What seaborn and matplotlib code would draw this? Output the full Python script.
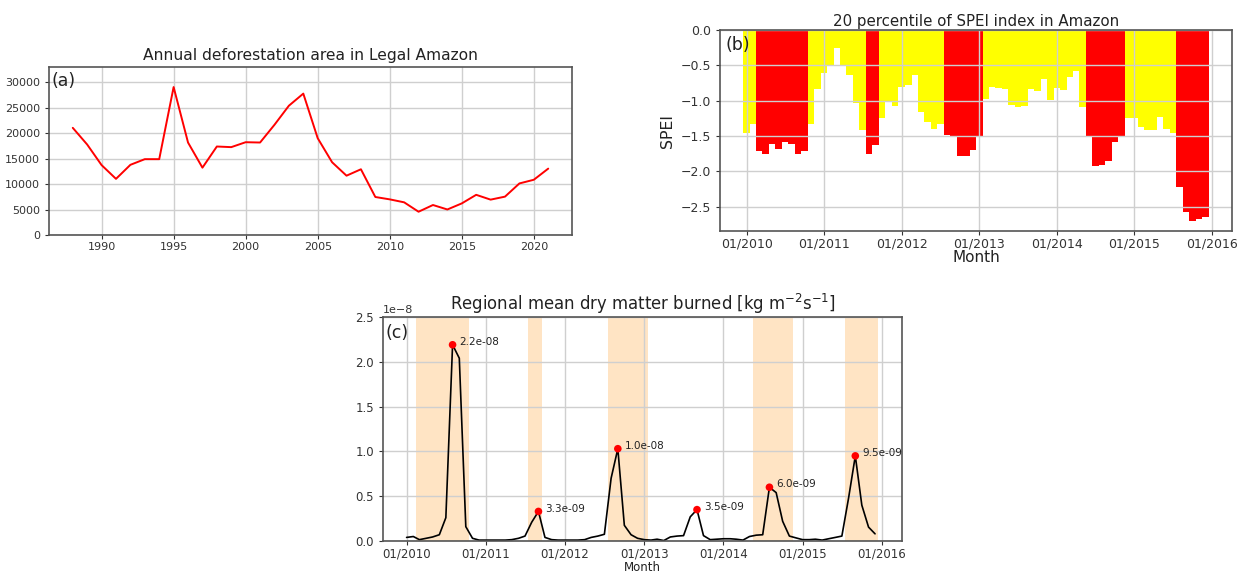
import numpy as np
import pandas as pd
import matplotlib
matplotlib.use("Agg")
import matplotlib.pyplot as plt
import matplotlib.dates as mdates
import seaborn as sns

# ---------------- data ----------------
years = list(range(1988, 2022))
deforestation = [21050, 17770, 13730, 11030, 13786, 14896, 14896, 29059, 18161, 13227,
                 17383, 17259, 18226, 18165, 21651, 25396, 27772, 19014, 14286, 11651,
                 12911, 7464, 7000, 6418, 4571, 5891, 5012, 6207, 7893, 6947,
                 7536, 10129, 10851, 13038]

spei = [-1.46, -1.33, -1.71, -1.75, -1.61, -1.68, -1.58, -1.61, -1.75, -1.71, -1.33, -0.84,
        -0.61, -0.50, -0.25, -0.51, -0.63, -1.04, -1.41, -1.75, -1.63, -1.24, -1.01, -1.07,
        -0.81, -0.78, -0.64, -1.16, -1.30, -1.40, -1.33, -1.49, -1.51, -1.79, -1.79, -1.70,
        -1.52, -0.97, -0.81, -0.82, -0.84, -1.06, -1.09, -1.07, -0.83, -0.86, -0.70, -0.99,
        -0.82, -0.85, -0.66, -0.58, -1.09, -1.52, -1.92, -1.91, -1.85, -1.58, -1.50, -1.25,
        -1.25, -1.37, -1.41, -1.42, -1.23, -1.40, -1.46, -2.22, -2.57, -2.71, -2.67, -2.65]

# 1 = month flagged as drought (red), 0 = other (yellow)
drought = [0, 0, 1, 1, 1, 1, 1, 1, 1, 1, 0, 0,
           0, 0, 0, 0, 0, 0, 0, 1, 1, 0, 0, 0,
           0, 0, 0, 0, 0, 0, 0, 1, 1, 1, 1, 1,
           1, 0, 0, 0, 0, 0, 0, 0, 0, 0, 0, 0,
           0, 0, 0, 0, 0, 1, 1, 1, 1, 1, 1, 0,
           0, 0, 0, 0, 0, 0, 0, 1, 1, 1, 1, 1]

# dry matter burned, units of 1e-8 kg m-2 s-1
dm_burned = [0.04, 0.05, 0.015, 0.03, 0.045, 0.07, 0.26, 2.19, 2.04, 0.16, 0.03, 0.01,
             0.01, 0.01, 0.01, 0.01, 0.015, 0.03, 0.055, 0.21, 0.33, 0.04, 0.015, 0.01,
             0.01, 0.01, 0.01, 0.015, 0.04, 0.055, 0.075, 0.70, 1.03, 0.175, 0.07, 0.03,
             0.015, 0.01, 0.02, 0.005, 0.045, 0.055, 0.06, 0.27, 0.35, 0.06, 0.015, 0.02,
             0.025, 0.025, 0.02, 0.01, 0.05, 0.065, 0.07, 0.60, 0.54, 0.22, 0.055, 0.035,
             0.015, 0.015, 0.02, 0.01, 0.025, 0.04, 0.055, 0.48, 0.95, 0.40, 0.155, 0.08]

months = pd.date_range("2010-01-01", periods=72, freq="MS")

# ---------------- style ----------------
sns.set_style("ticks", {"axes.grid": True})
plt.rcParams.update({
    "font.family": ["DejaVu Sans"],
    "axes.axisbelow": "line",
    "grid.color": "#cfcfcf",
    "grid.linewidth": 1.0,
    "axes.edgecolor": "#555555",
    "axes.linewidth": 1.2,
    "xtick.color": "#333333",
    "ytick.color": "#333333",
    "text.color": "#222222",
    "axes.labelcolor": "#222222",
})

fig = plt.figure(figsize=(12.44, 5.73), dpi=100)
W, H = 1244, 573

def add_ax(l, r, t, b):
    return fig.add_axes([l / W, 1 - b / H, (r - l) / W, (b - t) / H])

# ---------------- (a) ----------------
ax1 = add_ax(49, 572, 67, 235)
df_a = pd.DataFrame({"year": years, "area": deforestation})
sns.lineplot(data=df_a, x="year", y="area", ax=ax1, color="red", linewidth=1.4)
ax1.set_ylim(0, 33000)
ax1.set_yticks([0, 5000, 10000, 15000, 20000, 25000, 30000])
ax1.set_xticks([1990, 1995, 2000, 2005, 2010, 2015, 2020])
ax1.set_xlabel("")
ax1.set_ylabel("")
ax1.tick_params(labelsize=8, length=3)
ax1.tick_params(axis="x", pad=2)
ax1.set_title("Annual deforestation area in Legal Amazon", fontsize=11.2, pad=5)
ax1.text(0.005, 0.97, "(a)", transform=ax1.transAxes, fontsize=12.5, va="top", ha="left")

# ---------------- (b) ----------------
ax2 = add_ax(720, 1232, 30, 231)
xnum = mdates.date2num(months)
colors = ["red" if d else "yellow" for d in drought]
ax2.bar(xnum, spei, width=31, color=colors, linewidth=0)
ax2.xaxis.set_major_locator(mdates.YearLocator())
ax2.xaxis.set_major_formatter(mdates.DateFormatter("%m/%Y"))
ax2.set_ylabel("SPEI", fontsize=11.4)
ax2.set_xlabel("Month", fontsize=11, labelpad=0)
ax2.tick_params(labelsize=9, length=3)
ax2.tick_params(axis="x", pad=1.5)
ax2.set_title("20 percentile of SPEI index in Amazon", fontsize=10.8, pad=3)
ax2.text(0.01, 0.97, "(b)", transform=ax2.transAxes, fontsize=12.5, va="top", ha="left")

# ---------------- (c) ----------------
ax3 = add_ax(383, 902, 317, 541)
dm = np.array(dm_burned) * 1e-8
df_c = pd.DataFrame({"month": months, "dm": dm})
# shaded drought periods, half a month either side of the flagged months
flags = np.array(drought)
i = 0
while i < len(flags):
    if flags[i]:
        j = i
        while j + 1 < len(flags) and flags[j + 1]:
            j += 1
        ax3.axvspan(xnum[i] - 15.5, xnum[j] + 15.5, color="bisque", linewidth=0, zorder=0)
        i = j + 1
    else:
        i += 1
sns.lineplot(data=df_c, x="month", y="dm", ax=ax3, color="black", linewidth=1.2)
# annual maxima
df_c["year"] = df_c["month"].dt.year
peaks = df_c.loc[df_c.groupby("year")["dm"].idxmax()]
sns.scatterplot(data=peaks, x="month", y="dm", ax=ax3, color="red", s=30, zorder=5,
                edgecolor="none")
for _, row in peaks.iterrows():
    ax3.annotate(f"{row['dm']:.1e}", (mdates.date2num(row["month"]), row["dm"]),
                 xytext=(5, 2), textcoords="offset points", fontsize=7.5,
                 ha="left", va="center")
ax3.set_ylim(0, 2.5e-8)
ax3.xaxis.set_major_locator(mdates.YearLocator())
ax3.xaxis.set_major_formatter(mdates.DateFormatter("%m/%Y"))
ax3.set_xlabel("Month", fontsize=8.5, labelpad=0)
ax3.set_ylabel("")
ax3.tick_params(labelsize=8.5, length=3)
ax3.tick_params(axis="x", pad=2)
ax3.yaxis.get_offset_text().set_fontsize(8)
ax3.set_title(r"Regional mean dry matter burned [kg m$^{-2}$s$^{-1}$]", fontsize=11.9, pad=5)
ax3.text(0.005, 0.97, "(c)", transform=ax3.transAxes, fontsize=12.5, va="top", ha="left")

fig.savefig("out.png", dpi=100)
